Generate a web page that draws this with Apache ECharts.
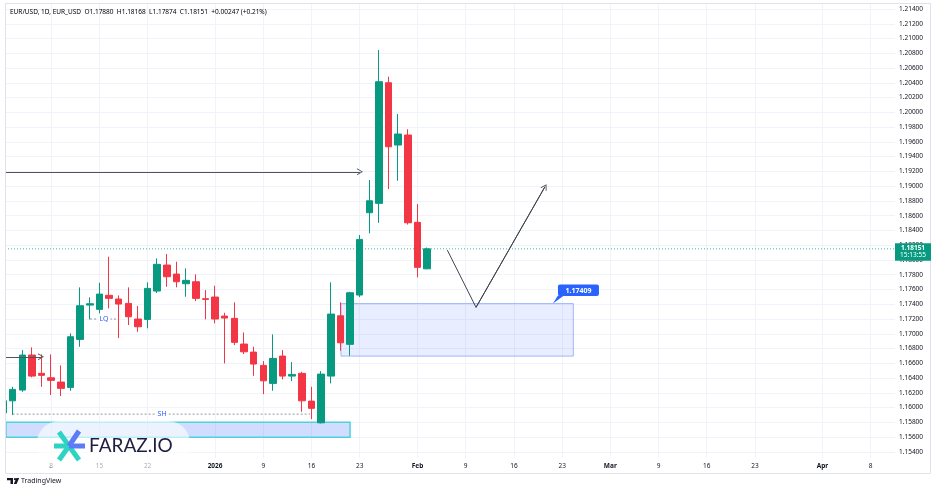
<!DOCTYPE html>
<html><head><meta charset="utf-8">
<script src="https://cdn.jsdelivr.net/npm/echarts@6/dist/echarts.min.js"></script>
<style>html,body{margin:0;padding:0;background:#fff}#c{width:936px;height:492px}</style>
</head><body><div id="c"></div>
<script>
// ---- data ----
const dates = ['2025-12-01','2025-12-02','2025-12-03','2025-12-04','2025-12-05','2025-12-08','2025-12-09','2025-12-10','2025-12-11','2025-12-12',
'2025-12-15','2025-12-16','2025-12-17','2025-12-18','2025-12-19','2025-12-22','2025-12-23','2025-12-24','2025-12-26','2025-12-29',
'2025-12-30','2025-12-31','2026-01-02','2026-01-05','2026-01-06','2026-01-07','2026-01-08','2026-01-09','2026-01-12','2026-01-13',
'2026-01-14','2026-01-15','2026-01-16','2026-01-19','2026-01-20','2026-01-21','2026-01-22','2026-01-23','2026-01-26','2026-01-27',
'2026-01-28','2026-01-29','2026-01-30','2026-02-02','2026-02-03'];
const opens  = [1.15930,1.16092,1.16238,1.16712,1.16464,1.16404,1.16346,1.16274,1.16924,1.17389,
1.17331,1.17521,1.17471,1.17412,1.17200,1.17195,1.17579,1.17931,1.17809,1.17678,
1.17705,1.17475,1.17498,1.17240,1.17209,1.16861,1.16752,1.16572,1.16328,1.16698,
1.16427,1.16464,1.16088,1.15794,1.16427,1.17244,1.16857,1.17525,1.18640,1.18767,
1.20401,1.19557,1.19693,1.18510,1.17880];
const highs  = [1.16120,1.16282,1.16779,1.16816,1.16721,1.16721,1.16572,1.17006,1.17629,1.17493,
1.17691,1.18044,1.17520,1.17629,1.17376,1.17697,1.18022,1.18080,1.17976,1.17886,
1.17805,1.17592,1.17651,1.17285,1.17426,1.17019,1.16824,1.16630,1.16992,1.16779,
1.16617,1.16485,1.16282,1.16495,1.17697,1.17426,1.17569,1.18338,1.19083,1.20844,
1.20483,1.19977,1.19770,1.18758,1.18168];
const lows   = [1.15900,1.15899,1.16214,1.16410,1.16282,1.16170,1.16156,1.16228,1.16824,1.17195,
1.17277,1.17344,1.16941,1.17118,1.17027,1.17074,1.17552,1.17637,1.17629,1.17502,
1.17443,1.17195,1.17141,1.16599,1.16847,1.16725,1.16431,1.16183,1.16228,1.16382,
1.16359,1.15943,1.15844,1.15786,1.16328,1.16770,1.16702,1.17498,1.18361,1.18504,
1.18961,1.19073,1.18480,1.17765,1.17874];
const closes = [1.16092,1.16247,1.16712,1.16427,1.16437,1.16369,1.16261,1.16960,1.17380,1.17407,
1.17538,1.17480,1.17403,1.17231,1.17095,1.17615,1.17941,1.17773,1.17705,1.17724,
1.17480,1.17466,1.17200,1.17213,1.16884,1.16756,1.16590,1.16363,1.16667,1.16427,
1.16450,1.16092,1.15990,1.16454,1.17267,1.16878,1.17556,1.18279,1.18802,1.20415,
1.19534,1.19706,1.18504,1.17900,1.18151];
const tickIdx  = [5,10,15,22,27,32,37,43,48,53,58,63,68,73,78,85,90];
const tickText = ['8','15','22','2026','9','16','23','Feb','9','16','23','Mar','9','16','23','Apr','8'];
const boldTicks = ['2026','Feb','Mar','Apr'];
const priceMin = 1.154, priceMax = 1.214, priceStep = 0.002;
const lastPrice = 1.18151, countdown = '15:13:55';
const header = {sym:'EUR/USD, 1D, EUR_USD', o:'1.17880', h:'1.18168', l:'1.17874', c:'1.18151', chg:'+0.00247 (+0.21%)'};
// annotations: [x index, price]
const longArrow  = [[0.31,1.19195],[37.03,1.19195]];
const shortArrow = [[0.31,1.16689],[3.94,1.16689]];
const lqLine = [[9.02,1.17200],[11.93,1.17200]];
const shLine = [[1.0,1.15912],[31.85,1.15912]];
const shBox = [[0.31,1.15800],[36.0,1.15597]];
const demandBox = [[35.06,1.17409],[59.16,1.16698]];
const zigzag = [[46.09,1.18134],[49.07,1.17358],[56.22,1.18992]];
const calloutAt = [57.05,1.17409];
const calloutText = '1.17409';

const UP='#089981', DOWN='#F23645';
const xMin = 0.2075, xMax = 92.53;
const chev = 'path://M0,10 L5,0 L10,10 L8.6,10 L5,2.6 L1.4,10 Z';

const chart = echarts.init(document.getElementById('c'));
const candleData = dates.map((d,i)=>[i, opens[i], closes[i], lows[i], highs[i]]);
const arrowSeg = (a,b,col)=>[{coord:a,symbol:'none'},{coord:b,symbol:chev,symbolSize:[7,6]}];
const plainLine = (pts,style,extra)=>Object.assign({type:'line',xAxisIndex:0,yAxisIndex:0,data:pts,symbol:'none',silent:true,
  lineStyle:style,itemStyle:{color:style.color},emphasis:{disabled:true},z:3},extra||{});
const tagPoint = (pt,txt)=>({coord:pt,symbol:'rect',symbolSize:[13,8],itemStyle:{color:'#fff'},
  label:{show:true,position:'inside',formatter:txt,color:'#2962ff',fontSize:7}});

const option = {
  animation:false,
  backgroundColor:'#ffffff',
  textStyle:{fontFamily:'Noto Sans, Roboto, sans-serif'},
  grid:[{left:5,right:41,top:9,bottom:40.1},{left:5,right:41,top:3,bottom:34}],
  xAxis:[
    {type:'value',gridIndex:0,min:xMin,max:xMax,show:false},
    {type:'value',gridIndex:1,min:xMin,max:xMax,
      axisLine:{show:false},axisTick:{show:false,customValues:tickIdx},
      axisLabel:{customValues:tickIdx,fontSize:6.5,color:'#131722',margin:5,
        formatter:v=>{const t=tickText[tickIdx.indexOf(Math.round(v))]||'';return boldTicks.includes(t)?'{b|'+t+'}':t;},
        rich:{b:{fontWeight:'bold',fontSize:6.5,color:'#131722'}}},
      splitLine:{show:true,lineStyle:{color:'#f0f3fa',width:1}}}
  ],
  yAxis:[
    {type:'value',gridIndex:0,position:'right',min:priceMin,max:priceMax,interval:priceStep,
      axisLine:{show:false},axisTick:{show:false},
      axisLabel:{formatter:v=>v.toFixed(5),fontSize:6.5,color:'#131722',margin:4,align:'left'},
      splitLine:{lineStyle:{color:'#f0f3fa',width:1}}},
    {type:'value',gridIndex:1,min:0,max:1,show:false}
  ],
  series:[
    plainLine([[xMin,lastPrice],[xMax,lastPrice]],{color:'#3fb8a6',width:1,type:[1,2]},{z:1}),
    {
      type:'candlestick',xAxisIndex:0,yAxisIndex:0,
      data:candleData,encode:{x:0,y:[1,2,3,4]},barWidth:7,
      itemStyle:{color:UP,color0:DOWN,borderColor:UP,borderColor0:DOWN,borderWidth:1},
      markArea:{silent:true,data:[
        [{coord:shBox[0],itemStyle:{color:'rgba(41,98,255,0.22)',borderColor:'#4fd2df',borderWidth:1.5}},{coord:shBox[1]}],
        [{coord:demandBox[0],itemStyle:{color:'rgba(41,98,255,0.11)',borderColor:'#9fb6fb',borderWidth:1}},{coord:demandBox[1]}]
      ]}
    },
    plainLine(lqLine,{color:'#9598a1',width:1,type:[2,2]},{markPoint:{silent:true,data:[tagPoint([(lqLine[0][0]+lqLine[1][0])/2,lqLine[0][1]],'LQ')]}}),
    plainLine(shLine,{color:'#9598a1',width:1,type:[2,2]},{markPoint:{silent:true,data:[tagPoint([16.5,shLine[0][1]],'SH')]}}),
    plainLine(zigzag,{color:'#434651',width:1,type:'solid'},{
      markLine:{silent:true,precision:5,symbol:['none','none'],label:{show:false},
        lineStyle:{color:'#50535e',width:1,type:'solid'},emphasis:{disabled:true},
        data:[arrowSeg(longArrow[0],longArrow[1]),arrowSeg(shortArrow[0],shortArrow[1]),
              [{coord:zigzag[1],symbol:'none',lineStyle:{color:'#434651'}},{coord:zigzag[2],symbol:chev,symbolSize:[7,6]}]]}})
  ]
};
chart.setOption(option);

const yp = chart.convertToPixel({yAxisIndex:0}, lastPrice);
const ca = chart.convertToPixel({xAxisIndex:0,yAxisIndex:0}, calloutAt);
chart.setOption({graphic:[
  {type:'rect',silent:true,shape:{x:0,y:0,width:5,height:474},style:{fill:'#fff'},z:99},
  {type:'rect',silent:true,shape:{x:5.5,y:3.5,width:925,height:470},style:{fill:'none',stroke:'#e0e3eb',lineWidth:1},z:100},
  {type:'text',x:10,y:12,silent:true,style:{
    text:'{a|'+header.sym+'} {a|O}{b|'+header.o+'} {a|H}{b|'+header.h+'} {a|L}{b|'+header.l+'} {a|C}{b|'+header.c+'} {b|'+header.chg+'}',
    verticalAlign:'middle',
    rich:{a:{fontSize:6.5,color:'#131722',fontFamily:'Noto Sans'},b:{fontSize:6.5,color:'#089981',fontFamily:'Noto Sans'}}},z:100},
  // last price tag
  {type:'rect',silent:true,shape:{x:895,y:yp-5.5,width:36,height:17.5},style:{fill:UP},z:100},
  {type:'text',silent:true,x:913,y:yp-1,style:{text:lastPrice.toFixed(5),fill:'#fff',fontSize:6.5,fontWeight:'bold',align:'center',verticalAlign:'middle',fontFamily:'Noto Sans'},z:101},
  {type:'text',silent:true,x:913,y:yp+6.5,style:{text:countdown,fill:'#fff',fontSize:6.5,align:'center',verticalAlign:'middle',fontFamily:'Noto Sans'},z:101},
  // callout
  {type:'polygon',silent:true,shape:{points:[[ca[0],ca[1]],[ca[0]+5,ca[1]-8],[ca[0]+11,ca[1]-8]]},style:{fill:'#2962ff'},z:100},
  {type:'rect',silent:true,shape:{x:ca[0]+5,y:ca[1]-19,width:41,height:11.5,r:2},style:{fill:'#2962ff'},z:100},
  {type:'text',silent:true,x:ca[0]+25.5,y:ca[1]-13,style:{text:calloutText,fill:'#fff',fontSize:7,fontWeight:'bold',align:'center',verticalAlign:'middle',fontFamily:'Noto Sans'},z:101},
  // watermark
  {type:'rect',silent:true,shape:{x:37,y:421,width:153,height:48,r:22},style:{fill:'rgba(255,255,255,0.62)'},z:90},
  {type:'line',silent:true,shape:{x1:54,y1:446,x2:69,y2:446},style:{stroke:'#2dd4c4',lineWidth:5},z:91},
  {type:'line',silent:true,shape:{x1:69,y1:446,x2:59,y2:460},style:{stroke:'#2dd4c4',lineWidth:5},z:91},
  {type:'line',silent:true,shape:{x1:59,y1:432,x2:69,y2:446},style:{stroke:'#2dd4c4',lineWidth:5},z:91},
  {type:'line',silent:true,shape:{x1:69,y1:446,x2:79,y2:431},style:{stroke:'#5b7cf6',lineWidth:5},z:92},
  {type:'line',silent:true,shape:{x1:69,y1:446,x2:85,y2:446},style:{stroke:'#5b7cf6',lineWidth:5},z:92},
  {type:'line',silent:true,shape:{x1:69,y1:446,x2:79,y2:460},style:{stroke:'#2dd4c4',lineWidth:5},z:91},
  {type:'text',silent:true,x:89,y:446,style:{text:'FARAZ.IO',fill:'#1d1e42',fontSize:19,fontFamily:'Lato',verticalAlign:'middle'},z:93},
  // TradingView logo
  {type:'polygon',silent:true,shape:{points:[[7,478],[13,478],[13,484],[10.5,484],[10.5,480.2],[7,480.2]]},style:{fill:'#131722'},z:100},
  {type:'polygon',silent:true,shape:{points:[[16.4,478],[19.2,478],[16.6,484],[13.8,484]]},style:{fill:'#131722'},z:100},
  {type:'circle',silent:true,shape:{cx:15,cy:479.2,r:1.1},style:{fill:'#131722'},z:100},
  {type:'text',silent:true,x:21,y:481,style:{text:'TradingView',fill:'#131722',fontSize:7,verticalAlign:'middle',fontFamily:'Noto Sans'},z:100}
]});
</script>
</body></html>
